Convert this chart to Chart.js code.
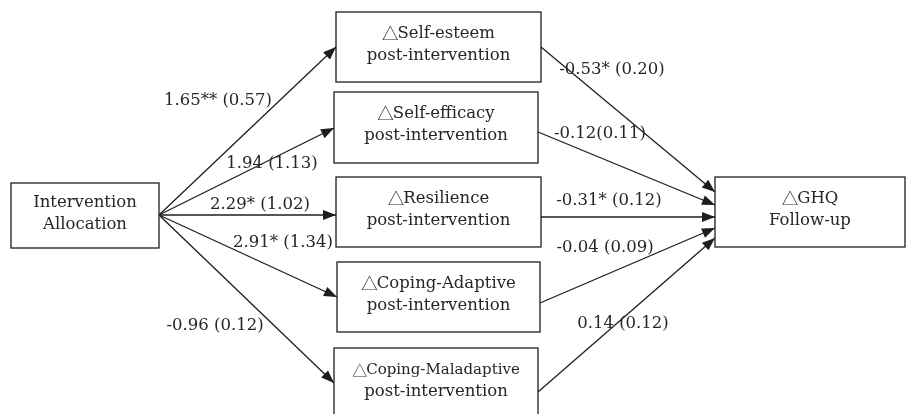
<!DOCTYPE html>
<html>
<head>
<meta charset="utf-8">
<script src="https://cdn.jsdelivr.net/npm/chart.js@4.4.1/dist/chart.umd.min.js"></script>
<style>
  html, body { margin: 0; padding: 0; background: #fff; }
  #wrap { width: 906px; height: 414px; }
</style>
</head>
<body>
<div id="wrap"><canvas id="pathChart"></canvas></div>
<script>
// mediators and path estimates (coef (SE))
const mediators = ['Self-esteem', 'Self-efficacy', 'Resilience', 'Coping-Adaptive', 'Coping-Maladaptive'];
const pathA = ['1.65** (0.57)', '1.94 (1.13)', '2.29* (1.02)', '2.91* (1.34)', '-0.96 (0.12)'];
const pathB = ['-0.53* (0.20)', '-0.12(0.11)', '-0.31* (0.12)', '-0.04 (0.09)', '0.14 (0.12)'];
const sourceLabel = ['Intervention', 'Allocation'];
const outcomeLabel = ['\u25B3GHQ', 'Follow-up'];

// layout, in scale units (same as pixels here)
const srcBox = { x0: 11, y0: 183, x1: 159, y1: 248 };
const outBox = { x0: 715, y0: 177, x1: 905, y1: 247 };
const medBoxes = [
  { x0: 336, y0: 12, x1: 541, y1: 82 },
  { x0: 334, y0: 92, x1: 538, y1: 163 },
  { x0: 336, y0: 177, x1: 541, y1: 247 },
  { x0: 337, y0: 262, x1: 540, y1: 332 },
  { x0: 334, y0: 348, x1: 538, y1: 420 }
];
const srcPort = { x: 159, y: 215 };
const medIn = [47, 128, 215, 297, 383];
const medOut = [47, 132, 217, 303, 392];
const outIn = [192, 205, 217, 228, 238];
const aLabelPos = [[218, 101], [272, 164], [260, 205], [283, 243], [215, 326]];
const bLabelPos = [[612, 70], [600, 134], [609, 201], [605, 248], [623, 324]];

const FONT = '"DejaVu Serif", serif';
const TRI_FONT = '"Noto Sans CJK SC", "DejaVu Sans", sans-serif';
const INK = '#1e1e1e';
const TXT = '#262626';

const datasets = [];
mediators.forEach((m, i) => {
  datasets.push({
    label: 'a ' + m,
    data: [{ x: srcPort.x, y: srcPort.y }, { x: medBoxes[i].x0, y: medIn[i] }],
    showLine: true, borderColor: INK, borderWidth: 1.3, pointRadius: 0
  });
  datasets.push({
    label: 'b ' + m,
    data: [{ x: medBoxes[i].x1, y: medOut[i] }, { x: outBox.x0, y: outIn[i] }],
    showLine: true, borderColor: INK, borderWidth: 1.3, pointRadius: 0
  });
});

// draw a centered line; a leading triangle gets its own (bigger) font
function drawLine(ctx, text, cx, cy, size) {
  ctx.textBaseline = 'middle';
  ctx.textAlign = 'left';
  const mainFont = size + 'px ' + FONT;
  const triFont = size + 'px ' + TRI_FONT;
  let tri = '', rest = text;
  if (text.charAt(0) === '\u25B3') { tri = '\u25B3'; rest = text.slice(1); }
  ctx.font = triFont;
  const tw = tri ? ctx.measureText(tri).width - 1 : 0;
  ctx.font = mainFont;
  const rw = ctx.measureText(rest).width;
  let x = cx - (tw + rw) / 2;
  if (tri) {
    ctx.font = triFont;
    ctx.fillText(tri, x, cy);
    x += tw;
  }
  ctx.font = mainFont;
  ctx.fillText(rest, x, cy);
}

const diagramPlugin = {
  id: 'diagram',
  afterDatasetsDraw(chart) {
    const ctx = chart.ctx;
    const sx = chart.scales.x, sy = chart.scales.y;
    const px = v => sx.getPixelForValue(v);
    const py = v => sy.getPixelForValue(v);

    // arrowheads at the end of each edge
    chart.data.datasets.forEach((ds, di) => {
      const pts = chart.getDatasetMeta(di).data;
      const a = pts[0], b = pts[1];
      const ang = Math.atan2(b.y - a.y, b.x - a.x);
      const len = 13, half = 5;
      ctx.save();
      ctx.fillStyle = INK;
      ctx.translate(b.x, b.y);
      ctx.rotate(ang);
      ctx.beginPath();
      ctx.moveTo(0, 0);
      ctx.lineTo(-len, -half);
      ctx.lineTo(-len, half);
      ctx.closePath();
      ctx.fill();
      ctx.restore();
    });

    // sizes: one per line
    function box(bx, lines, sizes) {
      const x0 = px(bx.x0), x1 = px(bx.x1), y0 = py(bx.y0), y1 = py(bx.y1);
      ctx.save();
      ctx.fillStyle = '#fff';
      ctx.fillRect(x0, y0, x1 - x0, y1 - y0);
      ctx.strokeStyle = INK;
      ctx.lineWidth = 1.3;
      ctx.strokeRect(x0, y0, x1 - x0, y1 - y0);
      ctx.fillStyle = TXT;
      const cx = (x0 + x1) / 2;
      const cy = (py(bx.y0) + py(Math.min(bx.y1, bx.y0 + 70))) / 2 - 2;
      const gap = 22;
      lines.forEach((t, k) => drawLine(ctx, t, cx, cy + (k - (lines.length - 1) / 2) * gap, sizes[k]));
      ctx.restore();
    }

    box(srcBox, sourceLabel, [16.5, 16.5]);
    box(outBox, outcomeLabel, [16.5, 16.5]);
    mediators.forEach((m, i) => {
      box(medBoxes[i], ['\u25B3' + m, 'post-intervention'], [i === 4 ? 15 : 16.5, 16.5]);
    });

    ctx.save();
    ctx.fillStyle = TXT;
    ctx.font = '16.5px ' + FONT;
    ctx.textAlign = 'center';
    ctx.textBaseline = 'middle';
    pathA.forEach((t, i) => ctx.fillText(t, px(aLabelPos[i][0]), py(aLabelPos[i][1])));
    pathB.forEach((t, i) => ctx.fillText(t, px(bLabelPos[i][0]), py(bLabelPos[i][1])));
    ctx.restore();
  }
};

new Chart(document.getElementById('pathChart').getContext('2d'), {
  type: 'scatter',
  data: { datasets: datasets },
  options: {
    responsive: true,
    maintainAspectRatio: false,
    animation: false,
    layout: { padding: 0 },
    plugins: { legend: { display: false }, tooltip: { enabled: false } },
    scales: {
      x: { type: 'linear', min: 0, max: 906, display: false },
      y: { type: 'linear', min: 0, max: 414, reverse: true, display: false }
    }
  },
  plugins: [diagramPlugin]
});
</script>
</body>
</html>
